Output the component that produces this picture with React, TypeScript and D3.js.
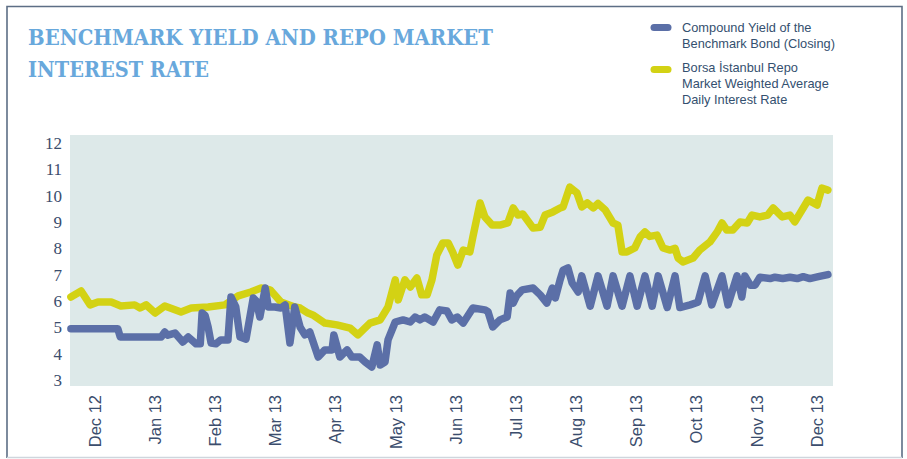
import React from 'react';
import * as d3 from 'd3';

// month labels on the x axis (position = index, in months from Dec 12)
const monthLabels = ['Dec 12', 'Jan 13', 'Feb 13', 'Mar 13', 'Apr 13', 'May 13', 'Jun 13',
  'Jul 13', 'Aug 13', 'Sep 13', 'Oct 13', 'Nov 13', 'Dec 13'];
const yTicks = [3, 4, 5, 6, 7, 8, 9, 10, 11, 12];

// Compound yield of the benchmark bond (closing)
const bondT = [-0.40, 0.38, 0.42, 1.10, 1.16, 1.21, 1.33, 1.46, 1.55, 1.68, 1.75, 1.78, 1.83, 1.88, 1.93,
  2.01, 2.09, 2.21, 2.26, 2.34, 2.41, 2.51, 2.63, 2.68, 2.74, 2.83, 2.88, 2.99, 3.09, 3.16, 3.24, 3.32,
  3.41, 3.49, 3.57, 3.71, 3.82, 3.94, 3.97, 4.07, 4.19, 4.27, 4.40, 4.49, 4.60, 4.69, 4.74, 4.82, 4.87,
  4.99, 5.12, 5.24, 5.32, 5.40, 5.48, 5.62, 5.73, 5.85, 5.93, 6.02, 6.12, 6.28, 6.48, 6.53, 6.61, 6.73,
  6.85, 6.90, 6.95, 7.01, 7.10, 7.28, 7.40, 7.51, 7.60, 7.65, 7.73, 7.78, 7.86, 7.93, 8.03, 8.09, 8.23,
  8.36, 8.51, 8.61, 8.76, 8.89, 9.01, 9.14, 9.26, 9.36, 9.51, 9.64, 9.72, 9.89, 10.02, 10.14, 10.25,
  10.42, 10.52, 10.67, 10.75, 10.80, 10.89, 10.97, 11.05, 11.22, 11.30, 11.43, 11.55, 11.67, 11.77,
  11.88, 12.02, 12.18];
const bondV = [4.94, 4.94, 4.63, 4.63, 4.82, 4.70, 4.78, 4.44, 4.63, 4.37, 4.37, 5.54, 5.45, 5.01, 4.40,
  4.37, 4.52, 4.52, 6.15, 5.77, 4.63, 4.55, 6.11, 6.00, 5.39, 6.49, 5.77, 5.77, 5.73, 5.85, 4.40, 5.77,
  5.00, 4.71, 4.82, 3.87, 4.14, 4.14, 4.71, 3.87, 4.14, 3.87, 3.87, 3.68, 3.49, 4.33, 3.57, 3.68, 4.52,
  5.20, 5.28, 5.20, 5.39, 5.28, 5.39, 5.20, 5.66, 5.62, 5.28, 5.39, 5.16, 5.73, 5.66, 5.60, 5.01, 5.28,
  5.39, 6.30, 5.92, 6.20, 6.42, 6.49, 6.23, 5.92, 6.49, 6.11, 6.80, 7.17, 7.25, 6.68, 6.34, 6.95, 5.80,
  6.95, 5.80, 6.95, 5.80, 6.95, 5.80, 6.95, 5.80, 6.95, 5.75, 6.95, 5.75, 5.85, 5.95, 6.95, 5.85,
  6.95, 5.85, 6.95, 6.15, 6.95, 6.60, 6.60, 6.90, 6.85, 6.90, 6.85, 6.90, 6.85, 6.92,
  6.85, 6.92, 7.00];

// Borsa Istanbul repo market weighted average daily interest rate
const repoT = [-0.40, -0.23, -0.08, 0.05, 0.27, 0.43, 0.66, 0.75, 0.85, 1.00, 1.16, 1.43, 1.60, 1.88,
  2.16, 2.38, 2.59, 2.76, 2.91, 3.09, 3.32, 3.41, 3.54, 3.62, 3.82, 4.02, 4.24, 4.37, 4.57, 4.74, 4.87,
  4.99, 5.04, 5.15, 5.24, 5.35, 5.43, 5.52, 5.60, 5.68, 5.78, 5.87, 5.95, 6.03, 6.12, 6.23, 6.28, 6.40,
  6.48, 6.60, 6.73, 6.86, 6.95, 7.03, 7.11, 7.28, 7.40, 7.48, 7.61, 7.73, 7.78, 7.89, 8.01, 8.09, 8.18,
  8.28, 8.36, 8.48, 8.61, 8.69, 8.76, 8.84, 8.97, 9.06, 9.14, 9.22, 9.34, 9.44, 9.56, 9.64, 9.69, 9.77,
  9.94, 10.05, 10.22, 10.34, 10.42, 10.50, 10.60, 10.72, 10.84, 10.92, 11.05, 11.18, 11.27, 11.42,
  11.55, 11.63, 11.75, 11.85, 12.00, 12.08, 12.18];
const repoV = [6.15, 6.38, 5.85, 5.96, 5.96, 5.81, 5.85, 5.73, 5.85, 5.54, 5.81, 5.58, 5.73, 5.77,
  5.85, 6.19, 6.34, 6.49, 6.42, 5.96, 5.77, 5.73, 5.54, 5.47, 5.16, 5.09, 4.97, 4.71, 5.16, 5.28, 5.77,
  6.80, 6.04, 6.80, 6.53, 6.87, 6.23, 6.23, 6.80, 7.74, 8.20, 8.20, 7.82, 7.36, 7.93, 7.86, 8.43, 9.72,
  9.19, 8.88, 8.88, 8.96, 9.53, 9.26, 9.30, 8.77, 8.80, 9.26, 9.38, 9.53, 9.57, 10.32, 10.10, 9.57, 9.72,
  9.53, 9.70, 9.45, 8.96, 8.88, 7.86, 7.86, 8.01, 8.43, 8.62, 8.45, 8.50, 8.01, 7.93, 8.00, 7.63, 7.48,
  7.63, 7.93, 8.24, 8.62, 8.96, 8.69, 8.69, 9.00, 8.96, 9.26, 9.19, 9.26, 9.53, 9.19,
  9.26, 9.00, 9.45, 9.83, 9.64, 10.28, 10.21];

const W = 907;
const H = 459;
const plot = { left: 70, right: 833, top: 135, bottom: 386 };

const BLUE = '#5b6fa7';
const YELLOW = '#d3d214';
const AXIS_TEXT = '#3b4d6d';

const App = () => {
  const x = d3.scaleLinear().domain([-0.415, 12.265]).range([plot.left, plot.right]);
  const y = d3.scaleLinear().domain([2.77, 12.3]).range([plot.bottom, plot.top]);

  const line = d3
    .line<[number, number]>()
    .x(d => x(d[0]))
    .y(d => y(d[1]));

  const bond = bondT.map((t, i) => [t, bondV[i]] as [number, number]);
  const repo = repoT.map((t, i) => [t, repoV[i]] as [number, number]);

  return (
    <svg width={W} height={H} style={{ position: 'absolute', left: 0, top: 0 }}>
      {/* frame */}
      <rect x={0} y={0} width={W} height={H} fill="#fff" />
      <path d={`M7,458 L7,6.5 L902,6.5 L902,458`} fill="none" stroke="#5d6e85" strokeWidth={1.6} />
      <line x1={7} x2={902} y1={457.5} y2={457.5} stroke="#cfd6dd" strokeWidth={1.5} />

      {/* title */}
      <g fill="#68a8dc" fontFamily="'DejaVu Serif', serif" fontWeight="bold" fontSize={23}>
        <text x={28} y={45} textLength={465} lengthAdjust="spacingAndGlyphs">BENCHMARK YIELD AND REPO MARKET</text>
        <text x={28} y={77} textLength={181} lengthAdjust="spacingAndGlyphs">INTEREST RATE</text>
      </g>

      {/* legend */}
      <g fontFamily="'Liberation Sans', Arial, sans-serif" fontSize={12.8} fill="#34506f">
        <line x1={654} x2={668} y1={27.5} y2={27.5} stroke={BLUE} strokeWidth={7} strokeLinecap="round" />
        <text x={682} y={32}>Compound Yield of the</text>
        <text x={682} y={48}>Benchmark Bond (Closing)</text>
        <line x1={654} x2={668} y1={69.5} y2={69.5} stroke={YELLOW} strokeWidth={7} strokeLinecap="round" />
        <text x={682} y={72}>Borsa İstanbul Repo</text>
        <text x={682} y={88}>Market Weighted Average</text>
        <text x={682} y={104}>Daily Interest Rate</text>
      </g>

      {/* plot background */}
      <rect x={plot.left} y={plot.top} width={plot.right - plot.left} height={plot.bottom - plot.top} fill="#dde9e9" />

      {/* y axis labels */}
      <g fontFamily="'Liberation Serif', 'DejaVu Serif', serif" fontSize={17} fill={AXIS_TEXT} textAnchor="end">
        {yTicks.map(v => (
          <text key={v} x={62} y={y(v)} dy="0.35em">{v}</text>
        ))}
      </g>

      {/* x axis labels */}
      <g fontFamily="'Liberation Sans', Arial, sans-serif" fontSize={16.5} fill={AXIS_TEXT} textAnchor="end">
        {monthLabels.map((m, i) => (
          <text key={m} transform={`translate(${x(i)},395) rotate(-90)`} dy="0.35em">{m}</text>
        ))}
      </g>

      {/* series */}
      <path d={line(repo) || ''} fill="none" stroke={YELLOW} strokeWidth={7.5} strokeLinejoin="round" strokeLinecap="round" />
      <path d={line(bond) || ''} fill="none" stroke={BLUE} strokeWidth={7.5} strokeLinejoin="round" strokeLinecap="round" />
    </svg>
  );
};

export default App;
